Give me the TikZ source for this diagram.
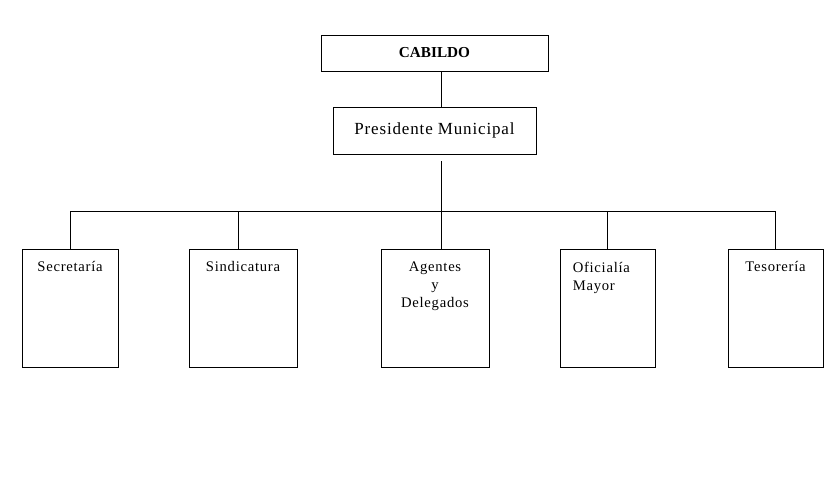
\documentclass[tikz,border=0pt]{standalone}
\usepackage{fontspec}
\setmainfont{Liberation Serif}
\newfontfamily\orgfont[LetterSpace=5]{Liberation Serif}
\usetikzlibrary{positioning}

\begin{document}
\begin{tikzpicture}[x=0.03cm, y=-0.03cm,
        head/.style={rectangle, draw, line width=0.8pt, minimum width=6.81cm, minimum height=1.08cm, font=\fontsize{13}{15}\selectfont\bfseries},
        pres/.style={rectangle, draw, line width=0.8pt, minimum width=6.09cm, minimum height=1.41cm, text depth=0.12cm, font=\orgfont\fontsize{14.5}{17}\selectfont},
        unit/.style={rectangle, draw, line width=0.8pt, minimum height=3.54cm},
        unittext/.style={anchor=north, inner sep=0pt, yshift=-0.39cm, align=center, font=\orgfont\fontsize{12.5}{15.3}\selectfont},
        line/.style={draw, line width=0.8pt}
    ]
        \useasboundingbox (0,0) rectangle (839,479);

        \node[head] (cabildo) at (434.5, 53) {CABILDO};
        \node[pres] (presidente) at (434.5, 130.5) {Presidente Municipal};

        \node[unit, minimum width=2.88cm] (secretaria) at (70, 308) {};
        \node[unit, minimum width=3.24cm] (sindicatura) at (243, 308) {};
        \node[unit, minimum width=3.24cm] (agentes) at (435, 308) {};
        \node[unit, minimum width=2.85cm] (oficialia) at (607.5, 308) {};
        \node[unit, minimum width=2.85cm] (tesoreria) at (775.5, 308) {};

        \node[unittext] at (secretaria.north) {Secretaría};
        \node[unittext] at (sindicatura.north) {Sindicatura};
        \node[unittext] at (agentes.north) {Agentes\\y\\Delegados};
        \node[unittext, align=left, anchor=north west] at ([xshift=0.39cm]oficialia.north west) {Oficialía\\Mayor};
        \node[unittext] at (tesoreria.north) {Tesorería};

        \coordinate (top) at (441, 161);
        \coordinate (bus) at (441, 211);
        \coordinate (drop2) at (238, 211);

        \draw[line] (cabildo.south -| top) -- (presidente.north -| top);
        \draw[line] (top) -- (bus);
        \draw[line] (secretaria.north |- bus) -- (tesoreria.north |- bus);

        \draw[line] (secretaria.north |- bus) -- (secretaria.north);
        \draw[line] (drop2) -- (sindicatura.north -| drop2);
        \draw[line] (agentes.north -| bus) -- (bus);
        \draw[line] (oficialia.north |- bus) -- (oficialia.north);
        \draw[line] (tesoreria.north |- bus) -- (tesoreria.north);
    \end{tikzpicture}
\end{document}
